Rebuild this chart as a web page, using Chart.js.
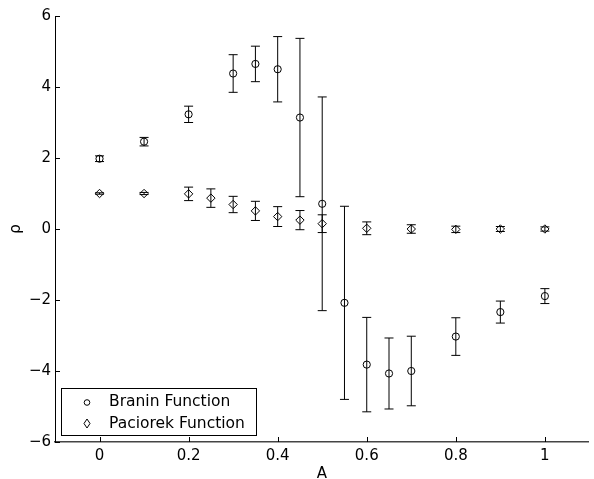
<!DOCTYPE html>
<html>
<head>
<meta charset="utf-8">
<script src="https://cdn.jsdelivr.net/npm/chart.js"></script>
<style>
  html, body { margin: 0; padding: 0; background: #fff; }
  #grafico { display: block; }
</style>
</head>
<body>
<canvas id="grafico" width="594" height="479"></canvas>
<script>
// ===== DADOS =====
const braninX    = [0, 0.1, 0.2, 0.3, 0.35, 0.4, 0.45, 0.5, 0.55, 0.6, 0.65, 0.7, 0.8, 0.9, 1.0];
const braninMean = [1.98, 2.46, 3.23, 4.38, 4.65, 4.50, 3.14, 0.71, -2.08, -3.82, -4.07, -4.00, -3.03, -2.34, -1.89];
const braninErr  = [0.08, 0.12, 0.23, 0.53, 0.50, 0.92, 2.23, 3.01, 2.72, 1.33, 1.00, 0.98, 0.53, 0.31, 0.21];

const paciorekX    = [0, 0.1, 0.2, 0.25, 0.3, 0.35, 0.4, 0.45, 0.5, 0.6, 0.7, 0.8, 0.9, 1.0];
const paciorekMean = [1.0, 1.0, 0.99, 0.87, 0.69, 0.51, 0.35, 0.25, 0.15, 0.02, 0.0, -0.01, 0.0, 0.0];
const paciorekErr  = [0.02, 0.03, 0.19, 0.26, 0.23, 0.27, 0.28, 0.27, 0.25, 0.18, 0.12, 0.09, 0.07, 0.06];

const xTicks = [0, 0.2, 0.4, 0.6, 0.8, 1];
const yTicks = [-6, -4, -2, 0, 2, 4, 6];

const nomes = ['Branin Function', 'Paciorek Function'];

// ===== FORMATO DOS NÚMEROS =====
function fmt(v) {
  const s = String(Math.round(v * 100) / 100);
  return s.replace('-', '\u2212');
}

// ===== BARRAS DE ERRO =====
const barrasErro = {
  id: 'barrasErro',
  afterDatasetsDraw(chart) {
    const ctx = chart.ctx;
    const xs = chart.scales.x, ys = chart.scales.y;
    ctx.save();
    ctx.strokeStyle = '#000';
    ctx.lineWidth = 1;
    chart.data.datasets.forEach(ds => {
      ds.data.forEach((p, i) => {
        const e = ds.errors[i];
        const px = xs.getPixelForValue(p.x);
        const top = ys.getPixelForValue(p.y + e);
        const bot = ys.getPixelForValue(p.y - e);
        ctx.beginPath();
        ctx.moveTo(px, top); ctx.lineTo(px, bot);
        ctx.moveTo(px - 4.5, top); ctx.lineTo(px + 4.5, top);
        ctx.moveTo(px - 4.5, bot); ctx.lineTo(px + 4.5, bot);
        ctx.stroke();
      });
    });
    ctx.restore();
  }
};

// ===== TICKS PARA DENTRO + LEGENDA =====
const extras = {
  id: 'extras',
  afterDraw(chart) {
    const ctx = chart.ctx;
    const a = chart.chartArea;
    const xs = chart.scales.x, ys = chart.scales.y;
    ctx.save();
    ctx.strokeStyle = '#000';
    ctx.lineWidth = 1;
    ctx.beginPath();
    xTicks.forEach(v => {
      const px = Math.round(xs.getPixelForValue(v)) + 0.5;
      ctx.moveTo(px, a.bottom); ctx.lineTo(px, a.bottom - 5);
    });
    yTicks.forEach(v => {
      const py = Math.round(ys.getPixelForValue(v)) + 0.5;
      ctx.moveTo(a.left, py); ctx.lineTo(a.left + 5, py);
    });
    ctx.stroke();

    // legenda dentro do gráfico
    const bx = 61.5, by = 388.5, bw = 195, bh = 47;
    ctx.fillStyle = '#fff';
    ctx.fillRect(bx, by, bw, bh);
    ctx.strokeRect(bx, by, bw, bh);

    ctx.fillStyle = '#000';
    ctx.font = '15.5px "DejaVu Sans"';
    ctx.textBaseline = 'middle';
    ctx.textAlign = 'left';

    // círculo
    ctx.beginPath();
    ctx.arc(87, 402.5, 2.8, 0, Math.PI * 2);
    ctx.stroke();
    ctx.fillText(nomes[0], 109, 402);

    // losango
    ctx.beginPath();
    ctx.moveTo(87, 419); ctx.lineTo(90, 423.5);
    ctx.lineTo(87, 428); ctx.lineTo(84, 423.5);
    ctx.closePath();
    ctx.stroke();
    ctx.fillText(nomes[1], 109, 423.5);
    ctx.restore();
  }
};

// ===== GRÁFICO =====
Chart.defaults.font.family = '"DejaVu Sans"';
Chart.defaults.font.size = 15;
Chart.defaults.color = '#000';

const ctx = document.getElementById('grafico').getContext('2d');

const grafico = new Chart(ctx, {
  type: 'scatter',
  data: {
    datasets: [{
      label: nomes[0],
      data: braninX.map((x, i) => ({ x: x, y: braninMean[i] })),
      errors: braninErr,
      pointStyle: 'circle',
      pointRadius: 3.6,
      borderColor: '#000',
      backgroundColor: 'rgba(0,0,0,0)',
      borderWidth: 1
    }, {
      label: nomes[1],
      data: paciorekX.map((x, i) => ({ x: x, y: paciorekMean[i] })),
      errors: paciorekErr,
      pointStyle: 'rectRot',
      pointRadius: 4.2,
      borderColor: '#000',
      backgroundColor: 'rgba(0,0,0,0)',
      borderWidth: 1
    }]
  },
  options: {
    responsive: false,
    animation: false,
    layout: { padding: { top: 16, right: 0, left: 0, bottom: 0 } },
    plugins: {
      legend: { display: false },
      tooltip: { enabled: false }
    },
    scales: {
      x: {
        type: 'linear',
        min: -0.1,
        max: 1.0986,
        afterBuildTicks: s => { s.ticks = xTicks.map(v => ({ value: v })); },
        afterFit: s => { s.height = 37; },
        grid: { display: false, drawTicks: false },
        border: { display: true, color: '#444', width: 1.5 },
        ticks: { padding: 5, maxRotation: 0, callback: v => fmt(v) },
        title: { display: true, text: 'A', padding: { top: 0, bottom: -4 } }
      },
      y: {
        type: 'linear',
        min: -6,
        max: 6,
        afterBuildTicks: s => { s.ticks = yTicks.map(v => ({ value: v })); },
        afterFit: s => { s.width = 55; },
        grid: { display: false, drawTicks: false },
        border: { display: true, color: '#000', width: 1 },
        ticks: { padding: 4, callback: v => fmt(v) },
        title: { display: true, text: 'ρ', padding: { top: 7, bottom: 0 } }
      }
    }
  },
  plugins: [barrasErro, extras]
});
</script>
</body>
</html>
